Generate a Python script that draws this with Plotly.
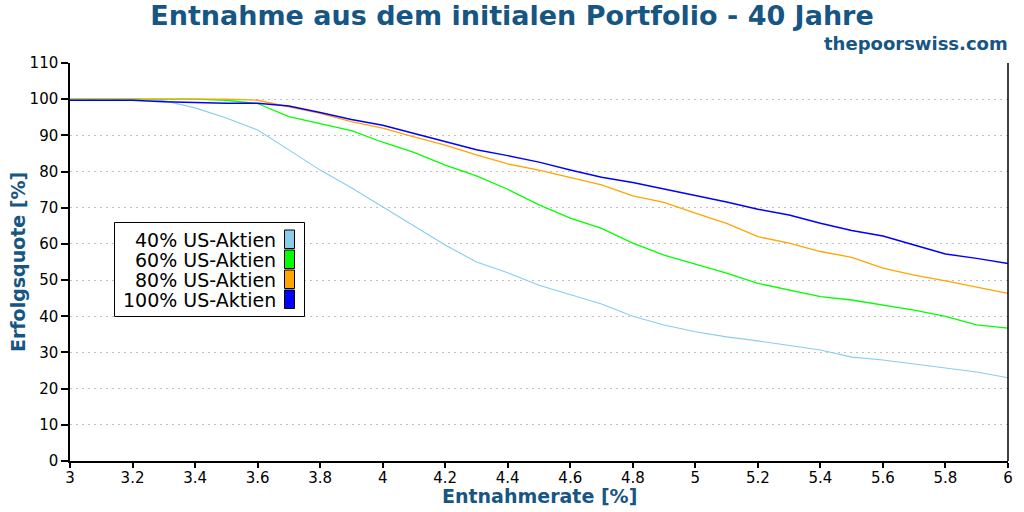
import plotly.graph_objects as go

# ---- data ----
rate = [3.0, 3.1, 3.2, 3.3, 3.4, 3.5, 3.6, 3.7, 3.8, 3.9, 4.0,
        4.1, 4.2, 4.3, 4.4, 4.5, 4.6, 4.7, 4.8, 4.9, 5.0,
        5.1, 5.2, 5.3, 5.4, 5.5, 5.6, 5.7, 5.8, 5.9, 6.0]

s40 = [100, 100, 100, 99.6, 97.6, 94.8, 91.5, 86.0, 80.4, 75.5, 70.2,
       65.0, 59.7, 55.0, 52.0, 48.6, 46.0, 43.4, 40.0, 37.6, 35.7,
       34.3, 33.2, 32.0, 30.7, 28.7, 27.9, 26.8, 25.7, 24.6, 23.0]

s60 = [100, 100, 100, 100, 100, 99.7, 98.8, 95.2, 93.3, 91.3, 88.1,
       85.3, 81.8, 78.8, 75.1, 70.8, 67.1, 64.3, 60.2, 56.9, 54.4,
       51.9, 49.1, 47.3, 45.4, 44.5, 43.1, 41.7, 40.0, 37.6, 36.7]

s80 = [100, 100, 100, 100, 100, 100, 99.7, 97.9, 96.1, 93.8, 92.0,
       89.6, 87.3, 84.6, 82.1, 80.4, 78.4, 76.3, 73.3, 71.5, 68.5,
       65.7, 62.0, 60.2, 57.9, 56.3, 53.3, 51.4, 49.8, 48.0, 46.3]

s100 = [99.7, 99.7, 99.7, 99.3, 99.0, 98.85, 98.85, 98.1, 96.3, 94.4, 92.8,
        90.6, 88.3, 86.0, 84.4, 82.6, 80.4, 78.4, 77.0, 75.3, 73.4,
        71.6, 69.6, 68.0, 65.7, 63.7, 62.2, 59.7, 57.2, 56.0, 54.6]

series_names = ["40% US-Aktien", "60% US-Aktien", "80% US-Aktien", "100% US-Aktien"]
series_vals = [s40, s60, s80, s100]
series_colors = ["#87ceeb", "#00ff00", "#ffa500", "#0000ff"]
series_widths = [1.1, 1.3, 1.3, 1.5]

x_ticks = [3, 3.2, 3.4, 3.6, 3.8, 4, 4.2, 4.4, 4.6, 4.8, 5, 5.2, 5.4, 5.6, 5.8, 6]
x_tick_text = ["3", "3.2", "3.4", "3.6", "3.8", "4", "4.2", "4.4", "4.6", "4.8",
               "5", "5.2", "5.4", "5.6", "5.8", "6"]
y_ticks = list(range(0, 111, 10))

title_text = "Entnahme aus dem initialen Portfolio - 40 Jahre"
site_text = "thepoorswiss.com"
x_title = "Entnahmerate [%]"
y_title = "Erfolgsquote [%]"

TITLE_COLOR = "#175583"
FONT = "DejaVu Sans, Verdana, sans-serif"

# plot area in pixels
L, R, T, B = 70, 1008, 63, 461
W, H = 1024, 512


def px(xp):
    return (xp - L) / (R - L)


def py(yp):
    return (B - yp) / (B - T)


fig = go.Figure()
for name, vals, col, w in zip(series_names, series_vals, series_colors, series_widths):
    fig.add_trace(go.Scatter(x=rate, y=vals, mode="lines", name=name,
                             line=dict(color=col, width=w), showlegend=False))

fig.update_layout(
    width=W, height=H,
    margin=dict(l=L, r=W - R, t=T, b=H - B, pad=0, autoexpand=False),
    paper_bgcolor="white", plot_bgcolor="white",
    font=dict(family=FONT, size=15, color="black"),
    title=dict(text="<b>" + title_text + "</b>", x=0.5, xref="container",
               xanchor="center", y=1 - 16 / H, yref="container", yanchor="middle",
               font=dict(size=27, color=TITLE_COLOR, family=FONT)),
    xaxis=dict(range=[3, 6], tickvals=x_ticks, ticktext=x_tick_text,
               showgrid=False, zeroline=False, showline=True, automargin=False,
               linecolor="black", linewidth=1.5, mirror=False,
               ticks="outside", ticklen=5, tickcolor="black", tickwidth=1.5,
               ticklabelstandoff=-3,
               tickfont=dict(size=15, color="black")),
    yaxis=dict(range=[0, 110], tickvals=y_ticks, showgrid=True, automargin=False,
               gridcolor="#c0c0c0", griddash="2px,4px", gridwidth=1,
               zeroline=False, showline=True, linecolor="black", linewidth=1.5,
               ticks="outside", ticklen=7, tickcolor="black", tickwidth=1.5,
               tickfont=dict(size=15, color="black")),
)

# axis titles
fig.add_annotation(text="<b>" + x_title + "</b>", xref="paper", yref="paper",
                   x=0.5, y=py(496), xanchor="center", yanchor="middle",
                   showarrow=False, font=dict(size=19, color=TITLE_COLOR, family=FONT))
fig.add_annotation(text="<b>" + y_title + "</b>", xref="paper", yref="paper",
                   x=px(18), y=0.5, xanchor="center", yanchor="middle", textangle=-90,
                   showarrow=False, font=dict(size=19, color=TITLE_COLOR, family=FONT))

# right-side frame line
fig.add_shape(type="line", xref="paper", yref="paper", x0=1, x1=1, y0=0, y1=1,
              line=dict(color="black", width=1.5))

# site label
fig.add_annotation(text="<b>" + site_text + "</b>", xref="paper", yref="paper",
                   x=px(1010), y=py(44), xanchor="right", yanchor="middle",
                   showarrow=False, font=dict(size=18, color=TITLE_COLOR, family=FONT))

# manual legend (symbol on the right of the text)
fig.add_shape(type="rect", xref="paper", yref="paper",
              x0=px(114.5), x1=px(304.5), y0=py(316.5), y1=py(222.5),
              line=dict(color="black", width=1), fillcolor="white", layer="above")
for i, (name, col) in enumerate(zip(series_names, series_colors)):
    top = 230 + 20 * i
    fig.add_shape(type="rect", xref="paper", yref="paper",
                  x0=px(284.5), x1=px(294.5), y0=py(top + 18.5), y1=py(top),
                  line=dict(color="black", width=1), fillcolor=col, layer="above")
    fig.add_annotation(text=name, xref="paper", yref="paper",
                       x=px(278), y=py(top + 9.5), xanchor="right", yanchor="middle",
                       showarrow=False, font=dict(size=19, color="black", family=FONT))

fig.write_html("out.html")
